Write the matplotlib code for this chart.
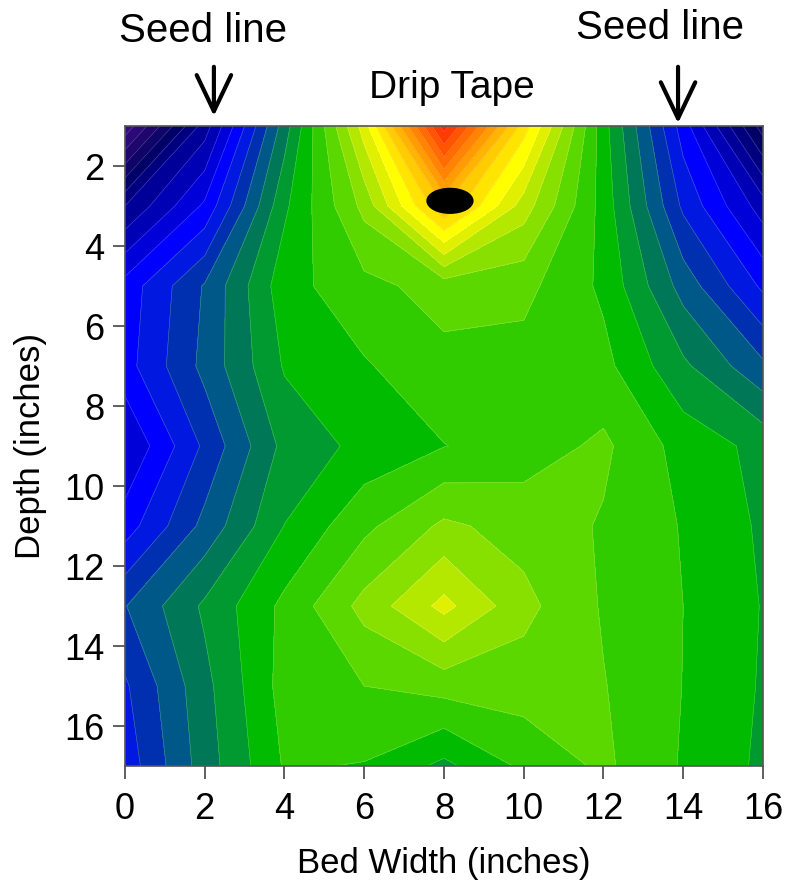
# Soil moisture contour under drip tape (bed width x depth)
import numpy as np
import matplotlib
matplotlib.use('Agg')
import matplotlib.pyplot as plt
from matplotlib.patches import Ellipse

plt.rcParams['font.family'] = ['Liberation Sans', 'DejaVu Sans']

# grid positions (inches)
bed_width = [0, 2, 4, 6, 8, 10, 12, 14, 16]
depth = [1, 3, 5, 7, 9, 11, 13, 15, 17]

# values, in contour-step units, one row per depth
row_d1 = [0.3, 6.5, 13.5, 20.5, 30.5, 22.5, 15.4, 9.5, 3.5]
row_d3 = [6.0, 9.2, 14.8, 18.3, 24.0, 19.5, 15.6, 10.8, 7.5]
row_d5 = [9.4, 12.1, 15.6, 16.7, 17.4, 17.3, 15.8, 12.6, 9.8]
row_d7 = [9.6, 12.3, 15.1, 15.9, 16.7, 16.6, 16.3, 14.2, 12.2]
row_d9 = [8.0, 11.2, 14.3, 15.3, 15.97, 16.5, 17.2, 15.6, 14.7]
row_d11 = [9.5, 12.3, 15.02, 16.75, 18.2, 17.6, 16.9, 15.93, 14.84]
row_d13 = [11.95, 14.18, 16.25, 18.33, 20.3, 18.3, 16.9, 16.0, 14.95]
row_d15 = [10.85, 13.7, 16.4, 17.0, 17.4, 17.5, 17.05, 15.98, 14.9]
row_d17 = [10.4, 13.5, 16.1, 15.94, 14.74, 16.2, 17.2, 15.9, 14.8]

# one colour per band, low -> high
band_colors = ['#3a0a82', '#2c0878', '#1e066e', '#100468', '#000066',
               '#00007e', '#000098', '#0000b4', '#0000d8', '#0000ff',
               '#0018e0', '#0030b0', '#005888', '#007858', '#009a30',
               '#00bb00', '#30cc00', '#5ad800', '#88e000', '#b4e800',
               '#e0f000', '#ffff00', '#ffe400', '#ffcc00', '#ffb400',
               '#ff9c00', '#ff8400', '#ff6c00', '#ff5400', '#ff3c00',
               '#ff2800']

Z = np.array([row_d1, row_d3, row_d5, row_d7, row_d9,
              row_d11, row_d13, row_d15, row_d17])
X, Y = np.meshgrid(bed_width, depth)
levels = np.arange(0, len(band_colors) + 1)

fig = plt.figure(figsize=(7.86, 8.82), dpi=100)
ax = fig.add_axes([0.159, 0.1315, 0.8117, 0.7256])

ax.contourf(X, Y, Z, levels=levels, colors=band_colors)
ax.contour(X, Y, Z, levels=levels[1:-1], colors='white',
           linewidths=0.4, alpha=0.3)

# drip tape position
ax.add_patch(Ellipse((8.15, 2.87), 1.15, 0.62, color='black', zorder=5))

ax.set_xlim(0, 16)
ax.set_ylim(17, 1)
ax.set_xticks(range(0, 17, 2))
ax.set_yticks(range(2, 17, 2))
ax.tick_params(direction='out', length=9, width=1.2, color='#444444',
               labelsize=26)
ax.tick_params(axis='x', pad=10)
ax.tick_params(axis='y', pad=6)
for s in ax.spines.values():
    s.set_color('#555555')
    s.set_linewidth(1.2)

ax.set_xlabel('Bed Width (inches)', fontsize=25, labelpad=14)
ax.set_ylabel('Depth (inches)', fontsize=25, labelpad=12)

# seed line arrows and labels
arrow = dict(arrowstyle='->, head_length=1.3, head_width=0.62',
             lw=3, color='black', mutation_scale=20)
ax.annotate('', xy=(2.23, 0.82), xytext=(2.23, -0.55),
            arrowprops=arrow, annotation_clip=False)
ax.annotate('', xy=(13.87, 1.0), xytext=(13.87, -0.55),
            arrowprops=arrow, annotation_clip=False)
fig.text(0.258, 0.965, 'Seed line', fontsize=29, ha='center', va='center')
fig.text(0.840, 0.968, 'Seed line', fontsize=29, ha='center', va='center')
fig.text(0.575, 0.900, 'Drip Tape', fontsize=28, ha='center', va='center')

plt.savefig('out.png', dpi=100)
